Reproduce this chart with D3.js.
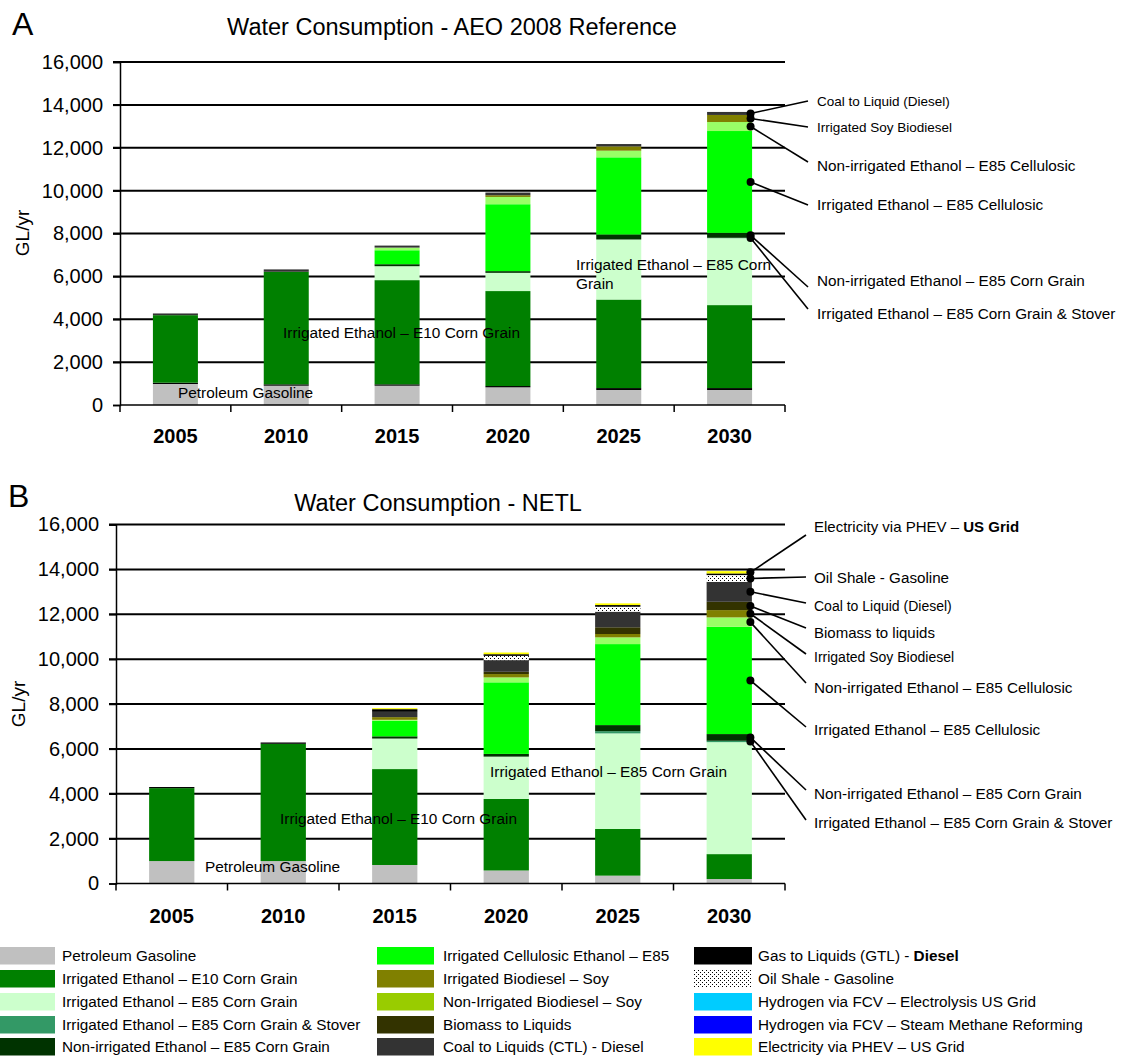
<!DOCTYPE html>
<html><head><meta charset="utf-8">
<script src="https://cdn.jsdelivr.net/npm/d3@7"></script>
<style>
body{margin:0;background:#fff}
svg{display:block}
text{font-family:"Liberation Sans",Arial,sans-serif;fill:#000}
</style>
</head><body>
<svg id="chart" width="1121" height="1057"></svg>
<script>
// ---------- data ----------
const years = ["2005","2010","2015","2020","2025","2030"];
const yTickValues = [0,2000,4000,6000,8000,10000,12000,14000,16000];

const seriesKeys   = ["gasoline","e10","e85corn","stover","nonirrCorn","cellulosic","nonirrCell","soyBio","nonirrSoyBio","biomass","ctl","gtl","oilShale","h2Elec","h2Smr","electricity"];
const seriesColors = ["#C0C0C0","#008000","#CCFFCC","#339966","#003300","#00FF00","#99FF66","#808000","#99CC00","#333300","#333333","#000000","pattern","#00CCFF","#0000FF","#FFFF00"];

// Chart A : AEO 2008 Reference (GL/yr)
const aGasoline   = [980, 900, 900, 825, 700, 700];
const aGtl        = [60, 65, 65, 60, 90, 90];
const aE10        = [3150, 5250, 4860, 4430, 4130, 3870];
const aE85corn    = [0, 0, 650, 850, 2800, 3120];
const aStover     = [0, 0, 0, 0, 0, 20];
const aNonirrCorn = [0, 0, 93, 80, 233, 230];
const aCellulosic = [0, 0, 650, 3120, 3600, 4750];
const aNonirrCell = [0, 0, 125, 340, 310, 420];
const aSoyBio     = [0, 0, 0, 80, 200, 330];
const aCtl        = [80, 110, 93, 125, 110, 140];

// Chart B : NETL (GL/yr)
const bGasoline   = [1000, 1000, 825, 580, 350, 200];
const bE10        = [3250, 5225, 4275, 3190, 2080, 1110];
const bE85corn    = [0, 0, 1360, 1885, 4260, 4990];
const bStover     = [0, 0, 0, 0, 100, 60];
const bNonirrCorn = [0, 0, 100, 120, 270, 300];
const bCellulosic = [0, 0, 690, 3190, 3610, 4780];
const bNonirrCell = [0, 0, 45, 220, 300, 420];
const bSoyBio     = [0, 0, 120, 150, 150, 325];
const bBiomass    = [0, 0, 0, 100, 300, 370];
const bCtl        = [0, 0, 235, 520, 695, 890];
const bOilShale   = [0, 0, 0, 190, 220, 300];
const bGtl        = [50, 60, 120, 75, 75, 75];
const bElectricity= [0, 0, 45, 75, 75, 100];

const orderA = ["gasoline","gtl","e10","e85corn","stover","nonirrCorn","cellulosic","nonirrCell","soyBio","ctl"];
const valuesA = [aGasoline,aGtl,aE10,aE85corn,aStover,aNonirrCorn,aCellulosic,aNonirrCell,aSoyBio,aCtl];
const orderB = ["gasoline","e10","e85corn","stover","nonirrCorn","cellulosic","nonirrCell","soyBio","biomass","ctl","oilShale","gtl","electricity"];
const valuesB = [bGasoline,bE10,bE85corn,bStover,bNonirrCorn,bCellulosic,bNonirrCell,bSoyBio,bBiomass,bCtl,bOilShale,bGtl,bElectricity];

// legend
const legendCol1 = [["gasoline","Petroleum Gasoline"],["e10","Irrigated Ethanol – E10 Corn Grain"],["e85corn","Irrigated Ethanol – E85 Corn Grain"],["stover","Irrigated Ethanol – E85 Corn Grain & Stover"],["nonirrCorn","Non-irrigated Ethanol – E85 Corn Grain"]];
const legendCol2 = [["cellulosic","Irrigated Cellulosic Ethanol – E85"],["soyBio","Irrigated Biodiesel – Soy"],["nonirrSoyBio","Non-Irrigated Biodiesel – Soy"],["biomass","Biomass to Liquids"],["ctl","Coal to Liquids (CTL) - Diesel"]];
const legendCol3 = [["gtl","Gas to Liquids (GTL) - ","Diesel"],["oilShale","Oil Shale - Gasoline"],["h2Elec","Hydrogen via FCV – Electrolysis US Grid"],["h2Smr","Hydrogen via FCV – Steam Methane Reforming"],["electricity","Electricity via PHEV – US Grid"]];

// annotations (series, label, label-centre y, font size, line-end y offset, bold suffix)
const annotA = [["ctl","Coal to Liquid (Diesel)",101,13.5,0],["soyBio","Irrigated Soy Biodiesel",127,13.5,0],["nonirrCell","Non-irrigated Ethanol – E85 Cellulosic",166,15.3,-4],["cellulosic","Irrigated Ethanol – E85 Cellulosic",205,15.3,0],["nonirrCorn","Non-irrigated Ethanol – E85 Corn Grain",281,15.3,6],["stover","Irrigated Ethanol – E85 Corn Grain & Stover",314,15.3,-5]];
const annotB = [["electricity","Electricity via PHEV – ",527,15,8,"US Grid"],["oilShale","Oil Shale - Gasoline",578,15.2,-1],["ctl","Coal to Liquid (Diesel)",606,14,-3],["biomass","Biomass to liquids",633,15,-5],["soyBio","Irrigated Soy Biodiesel",657,14,-3],["nonirrCell","Non-irrigated Ethanol – E85 Cellulosic",688,15.3,-5],["cellulosic","Irrigated Ethanol – E85 Cellulosic",730,15.3,-3],["nonirrCorn","Non-irrigated Ethanol – E85 Corn Grain",794,15.3,-4],["stover","Irrigated Ethanol – E85 Corn Grain & Stover",823,15.3,-3]];

// ---------- drawing ----------
const svg = d3.select("#chart");
const colorOf = k => { const c = seriesColors[seriesKeys.indexOf(k)]; return c === "pattern" ? "url(#oilshale)" : c; };

const defs = svg.append("defs");
const pat = defs.append("pattern").attr("id","oilshale").attr("patternUnits","userSpaceOnUse").attr("width",4).attr("height",4);
pat.append("rect").attr("width",4).attr("height",4).attr("fill","#fff");
pat.append("rect").attr("x",0).attr("y",0).attr("width",1).attr("height",1).attr("fill","#000");
pat.append("rect").attr("x",2).attr("y",2).attr("width",1).attr("height",1).attr("fill","#000");

function drawChart(cfg){
  const g = svg.append("g");
  const x = d3.scaleBand().domain(years).range([cfg.left,cfg.right]).paddingInner(0.594).paddingOuter(0.297);
  const y = d3.scaleLinear().domain([0,16000]).range([cfg.bottom,cfg.top]);

  g.append("text").attr("x",cfg.letterX).attr("y",cfg.letterY).attr("font-size",32).text(cfg.letter);
  g.append("text").attr("x",cfg.titleX).attr("y",cfg.titleY).attr("text-anchor","middle").attr("font-size",23.5).text(cfg.title);

  g.append("g").selectAll("line").data(yTickValues.slice(1)).join("line")
    .attr("x1",cfg.left-7).attr("x2",cfg.right).attr("y1",d=>y(d)).attr("y2",d=>y(d))
    .attr("stroke","#000").attr("stroke-width",2);

  const yAxis = d3.axisLeft(y).tickValues(yTickValues).tickSize(7).tickFormat(d3.format(","));
  const ya = g.append("g").attr("transform",`translate(${cfg.left},0)`).call(yAxis);
  ya.select(".domain").attr("stroke","#000").attr("stroke-width",1.5);
  ya.selectAll(".tick line").attr("stroke","#000").attr("stroke-width",1.5);
  ya.selectAll(".tick text").attr("font-size",20).attr("font-family","Liberation Sans, Arial, sans-serif").attr("fill","#000").attr("x",-17);

  g.append("text").attr("transform",`translate(${cfg.ylabX},${cfg.ylabY}) rotate(-90)`)
    .attr("text-anchor","middle").attr("dy","0.35em").attr("font-size",19).text("GL/yr");

  const rows = years.map((yr,i)=>{ const r={year:yr}; cfg.order.forEach((k,j)=>r[k]=cfg.values[j][i]); return r; });
  const stacked = d3.stack().keys(cfg.order)(rows);
  g.append("g").selectAll("g").data(stacked).join("g").attr("fill",d=>colorOf(d.key))
    .selectAll("rect").data(d=>d).join("rect")
    .attr("x",d=>x(d.data.year)).attr("width",x.bandwidth())
    .attr("y",d=>y(d[1])).attr("height",d=>Math.max(0,y(d[0])-y(d[1])));

  g.append("line").attr("x1",cfg.left).attr("x2",cfg.right).attr("y1",cfg.bottom).attr("y2",cfg.bottom).attr("stroke","#000").attr("stroke-width",1.5);
  const step = x.step();
  g.append("g").selectAll("line").data(d3.range(years.length+1)).join("line")
    .attr("x1",i=>cfg.left+i*step).attr("x2",i=>cfg.left+i*step)
    .attr("y1",cfg.bottom).attr("y2",cfg.bottom+7).attr("stroke","#000").attr("stroke-width",1.5);
  g.append("g").selectAll("text").data(years).join("text")
    .attr("x",d=>x(d)+x.bandwidth()/2).attr("y",cfg.bottom+cfg.yearDy).attr("dy","0.35em")
    .attr("text-anchor","middle").attr("font-size",20).attr("font-weight","bold").text(d=>d);

  cfg.inlabels.forEach(l=>{
    const t = g.append("text").attr("x",l[1]).attr("y",l[2]).attr("font-size",15.4);
    l[0].split("\n").forEach((s,i)=>t.append("tspan").attr("x",l[1]).attr("dy",i?"1.2em":"0.35em").text(s));
  });

  const last = years.length-1;
  const lastYear = years[last];
  const dotX = x(lastYear)+x.bandwidth()-1.5;
  cfg.annot.forEach(a=>{
    const s = stacked.find(d=>d.key===a[0]);
    const seg = s[last];
    const dy = y((seg[0]+seg[1])/2);
    g.append("line").attr("x1",dotX).attr("y1",dy).attr("x2",cfg.lineEndX).attr("y2",a[2]+a[4])
      .attr("stroke","#000").attr("stroke-width",1.6);
    g.append("circle").attr("cx",dotX).attr("cy",dy).attr("r",4).attr("fill","#000");
    const t = g.append("text").attr("x",cfg.labelX).attr("y",a[2]).attr("dy","0.35em").attr("font-size",a[3]);
    t.append("tspan").text(a[1]);
    if(a[5]) t.append("tspan").attr("font-weight","bold").text(a[5]);
  });
}

drawChart({
  letter:"A", letterX:12, letterY:35,
  title:"Water Consumption - AEO 2008 Reference", titleX:452, titleY:35,
  left:120, right:785, top:62, bottom:405,
  ylabX:22, ylabY:233, yearDy:31,
  order:orderA, values:valuesA, annot:annotA,
  lineEndX:808, labelX:817,
  inlabels:[["Petroleum Gasoline",178,393],["Irrigated Ethanol – E10 Corn Grain",283,333],["Irrigated Ethanol – E85 Corn\nGrain",576,265]]
});
drawChart({
  letter:"B", letterX:8, letterY:507,
  title:"Water Consumption - NETL", titleX:438, titleY:511,
  left:116, right:785, top:524.5, bottom:883.5,
  ylabX:18, ylabY:704, yearDy:32,
  order:orderB, values:valuesB, annot:annotB,
  lineEndX:806, labelX:814,
  inlabels:[["Petroleum Gasoline",205,867],["Irrigated Ethanol – E10 Corn Grain",280,819],["Irrigated Ethanol – E85 Corn Grain",490,772]]
});

const legendCols = [
  {items:legendCol1, sx:0, sw:55, tx:62},
  {items:legendCol2, sx:377, sw:57, tx:443},
  {items:legendCol3, sx:694, sw:58, tx:758}
];
const rowTops = [947,970,993,1016,1038];
const lg = svg.append("g");
legendCols.forEach(col=>{
  col.items.forEach((it,i)=>{
    lg.append("rect").attr("x",col.sx).attr("y",rowTops[i]).attr("width",col.sw).attr("height",17.5).attr("fill",colorOf(it[0]));
    const t = lg.append("text").attr("x",col.tx).attr("y",rowTops[i]+9).attr("dy","0.35em").attr("font-size",15.3);
    t.append("tspan").text(it[1]);
    if(it[2]) t.append("tspan").attr("font-weight","bold").text(it[2]);
  });
});
</script>
</body></html>
